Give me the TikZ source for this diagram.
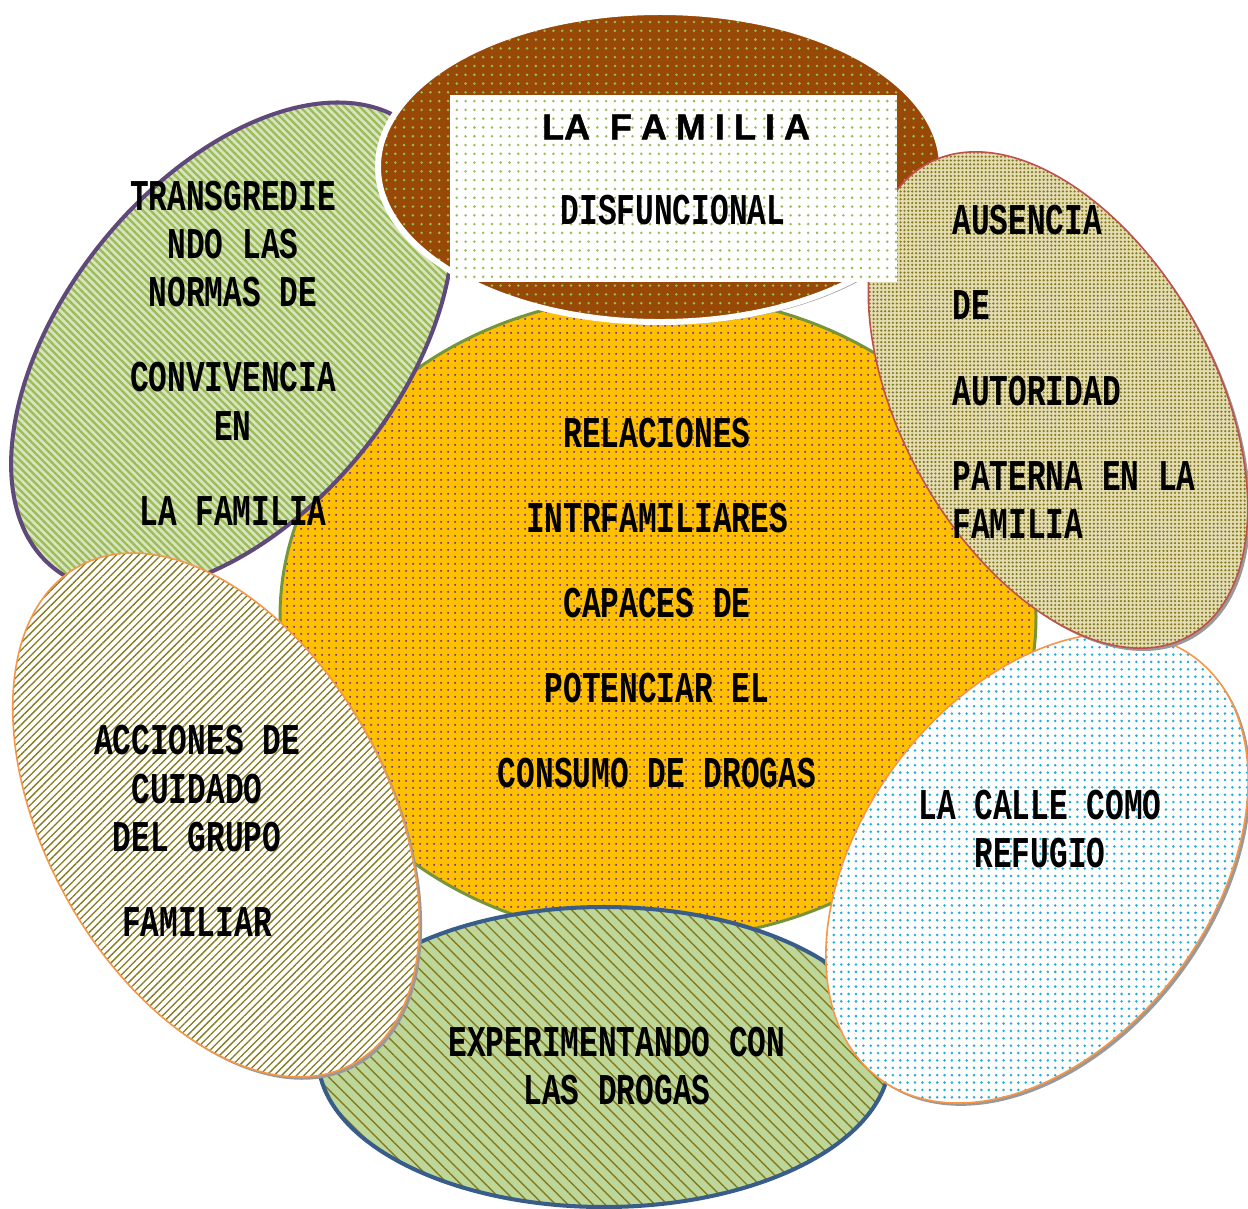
\documentclass[tikz,border=0pt]{standalone}
\usepackage{fontspec}
\usepackage{xcolor}
\usepackage{tikz}
\usetikzlibrary{patterns.meta,shadows}
\newfontfamily\monofont[FakeStretch=0.71]{Liberation Mono}
\newfontfamily\titlefont[FakeBold=1.2]{Liberation Sans}
\definecolor{naranja}{HTML}{FFC000}
\definecolor{morado}{HTML}{7030A0}
\definecolor{oliva}{HTML}{77933C}
\definecolor{cafe}{HTML}{984807}
\definecolor{verde}{HTML}{9BBB59}
\definecolor{verdeclaro}{HTML}{D7E4BD}
\definecolor{violeta}{HTML}{5F497A}
\definecolor{mostaza}{HTML}{857A1E}
\definecolor{naranjaborde}{HTML}{F79646}
\definecolor{rojo}{HTML}{C0504D}
\definecolor{beige}{HTML}{E4DDB4}
\definecolor{celeste}{HTML}{1FAED8}
\definecolor{pasto}{HTML}{BDD79A}
\definecolor{azul}{HTML}{385D8A}
\tikzset{
  sombra/.style={drop shadow={shadow xshift=1.6pt, shadow yshift=-1.6pt, fill=black!40, opacity=1}},
  centro/.style={draw=oliva, line width=1.7pt, preaction={fill=naranja},
    preaction={pattern={Dots[distance=4pt,radius=0.7pt]}, pattern color=morado}},
  familia/.style={sombra, draw=white, line width=3.4pt, preaction={fill=cafe},
    preaction={pattern={Dots[distance=5pt,radius=0.8pt]}, pattern color=verde}},
  titulo/.style={preaction={fill=white},
    preaction={pattern={Dots[distance=5pt,radius=0.8pt]}, pattern color=verde}},
  normas/.style={draw=violeta, line width=2.3pt, preaction={fill=verdeclaro},
    preaction={pattern={Lines[angle=-45,distance=3pt,line width=1.3pt]}, pattern color=verde}},
  cuidado/.style={sombra, draw=naranjaborde, line width=0.9pt, preaction={fill=white},
    preaction={pattern={Lines[angle=45,distance=3pt,line width=0.75pt]}, pattern color=mostaza}},
  autoridad/.style={sombra, draw=rojo, line width=0.9pt, preaction={fill=beige},
    preaction={pattern={Dots[distance=2.2pt,radius=0.7pt]}, pattern color=mostaza}},
  calle/.style={sombra, draw=naranjaborde, line width=0.9pt, preaction={fill=white},
    preaction={pattern={Dots[distance=4.2pt,radius=0.8pt]}, pattern color=celeste}},
  drogas/.style={draw=azul, line width=2.3pt, preaction={fill=pasto},
    preaction={pattern={Lines[angle=-45,distance=5pt,line width=0.8pt]}, pattern color=mostaza}},
  lbl/.style={font=\monofont\bfseries\fontsize{25}{27.5}\selectfont, align=center, text=black, inner sep=0pt},
  tlbl/.style={font=\titlefont\bfseries\fontsize{20.5}{24}\selectfont, text=black, inner sep=0pt}
}
\newcommand{\esp}{\hspace{0.25em}}
\begin{document}
\begin{tikzpicture}[x=0.02cm, y=0.02cm]
  \fill[white] (0,0) rectangle (1248,-1208);
  \useasboundingbox (0,0) rectangle (1248,-1208);

  \path[centro] (658,-617) ellipse [x radius=378, y radius=322];
  \path[drogas] (604,-1057) ellipse [x radius=286, y radius=150];
  \path[calle] (1037,-868) ellipse [x radius=263, y radius=175, rotate=53];
  \path[normas] (232,-347) ellipse [x radius=284, y radius=167, rotate=51];
  \path[cuidado] (216,-815) ellipse [x radius=284, y radius=171, rotate=-61];
  \path[familia] (660,-167) ellipse [x radius=282, y radius=155];
  \path[autoridad] (1058,-400) ellipse [x radius=270, y radius=157, rotate=-61];
  \path[titulo] (450,-95) rectangle (897,-282);

  \node[tlbl] (lafamilia) at (676,-127) {LA\hspace{0.55em}F\esp A\esp M\esp I\esp L\esp I\esp A};
  \node[lbl] (disfuncional) at (673,-210) {DISFUNCIONAL};
  \node[lbl] (relaciones) at (657,-603)
    {RELACIONES\\[21pt]INTRFAMILIARES\\[21pt]CAPACES DE\\[21pt]POTENCIAR EL\\[21pt]CONSUMO DE DROGAS};
  \node[lbl] (transgrediendo) at (233,-353)
    {TRANSGREDIE\\NDO LAS\\NORMAS DE\\[21pt]CONVIVENCIA\\EN\\[21pt]LA FAMILIA};
  \node[lbl, align=left, anchor=west] (ausencia) at (952,-372)
    {AUSENCIA\\[21pt]DE\\[21pt]AUTORIDAD\\[21pt]PATERNA EN LA\\FAMILIA};
  \node[lbl] (acciones) at (197,-831)
    {ACCIONES DE\\CUIDADO\\DEL GRUPO\\[21pt]FAMILIAR};
  \node[lbl] (refugio) at (1040,-829) {LA CALLE COMO\\REFUGIO};
  \node[lbl] (experimentando) at (617,-1066) {EXPERIMENTANDO CON\\LAS DROGAS};
\end{tikzpicture}
\end{document}
